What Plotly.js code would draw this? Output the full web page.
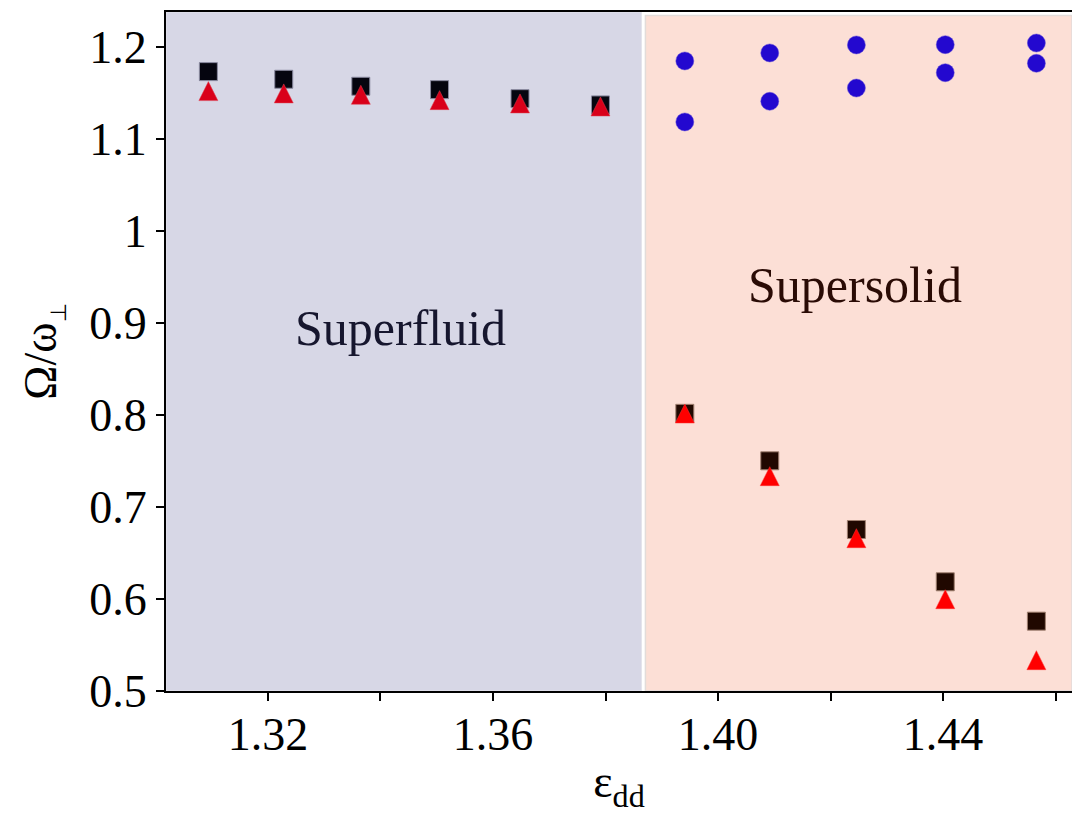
<!DOCTYPE html>
<html>
<head>
<meta charset="utf-8">
<script src="https://cdn.plot.ly/plotly-3.0.1.min.js"></script>
<style>
  html, body { margin: 0; padding: 0; background: #ffffff; }
  #chart { width: 1072px; height: 814px; }
</style>
</head>
<body>
<div id="chart"></div>
<script>
// Superfluid phase: one mode pair per interaction strength
const eddSuperfluid = [1.3094, 1.3228, 1.3365, 1.3505, 1.3648, 1.3791];
const squareSuperfluid = [1.1732, 1.1649, 1.1573, 1.1536, 1.1438, 1.1370];
const triangleSuperfluid = [1.1520, 1.1495, 1.1480, 1.1422, 1.1386, 1.1353];

// Supersolid phase
const eddSupersolid = [1.3941, 1.4092, 1.4246, 1.4404, 1.4566];
const circleUpper = [1.1848, 1.1935, 1.2022, 1.2025, 1.2043];
const circleLower = [1.1185, 1.1410, 1.1554, 1.1720, 1.1823];
const squareSupersolid = [0.8018, 0.7502, 0.6755, 0.6187, 0.5759];
const triangleSupersolid = [0.8016, 0.7335, 0.6661, 0.5998, 0.5335];

// Phase boundary and axis ticks
const phaseBoundary = [1.3864, 1.3871];
const xTickVals = [1.32, 1.34, 1.36, 1.38, 1.40, 1.42, 1.44, 1.46];
const xTickText = ['1.32', '', '1.36', '', '1.40', '', '1.44', ''];
const yTickVals = [0.5, 0.6, 0.7, 0.8, 0.9, 1.0, 1.1, 1.2];
const yTickText = ['0.5', '0.6', '0.7', '0.8', '0.9', '1', '1.1', '1.2'];
const phaseNames = ['Superfluid', 'Supersolid'];
const phaseLabelX = [1.3435, 1.4244];
const phaseLabelY = [0.8946, 0.9410];

const serif = '"Liberation Serif", "Times New Roman", Times, serif';

// Upright triangle centred on its point: a downward arrow turned
// half a turn and pushed back by its own half-height.
const TRI_SIZE = 19;
function triangleMarker(color, edge) {
  return { symbol: 'arrow-down', angle: 180, standoff: TRI_SIZE / 2,
           size: TRI_SIZE, color: color, line: { width: 0.5, color: edge } };
}

const traces = [
  { x: eddSuperfluid, y: squareSuperfluid, type: 'scatter', mode: 'markers',
    marker: { symbol: 'square', size: 18, color: '#05050f',
              line: { width: 1, color: '#8a8aa0' } } },
  { x: eddSuperfluid, y: triangleSuperfluid, type: 'scatter', mode: 'markers',
    marker: triangleMarker('#d9001a', '#e04050') },
  { x: eddSupersolid, y: circleUpper, type: 'scatter', mode: 'markers',
    marker: { symbol: 'circle', size: 18, color: '#2308cf',
              line: { width: 0.5, color: '#5a48d8' } } },
  { x: eddSupersolid, y: circleLower, type: 'scatter', mode: 'markers',
    marker: { symbol: 'circle', size: 18, color: '#2308cf',
              line: { width: 0.5, color: '#5a48d8' } } },
  { x: eddSupersolid, y: squareSupersolid, type: 'scatter', mode: 'markers',
    marker: { symbol: 'square', size: 18, color: '#200800',
              line: { width: 1, color: '#a08070' } } },
  { x: eddSupersolid, y: triangleSupersolid, type: 'scatter', mode: 'markers',
    marker: triangleMarker('#ff0000', '#ff3030') }
];

const layout = {
  width: 1072,
  height: 814,
  margin: { l: 166, r: 0, t: 12, b: 123 },
  paper_bgcolor: '#ffffff',
  plot_bgcolor: '#ffffff',
  showlegend: false,
  font: { family: serif, color: '#000000' },
  xaxis: {
    range: [1.30187, 1.46293],
    tickvals: xTickVals,
    ticktext: xTickText,
    ticks: 'outside', ticklen: 8, tickwidth: 2, tickcolor: '#000000',
    ticklabelstandoff: -6,
    showline: true, linecolor: '#000000', linewidth: 2, mirror: true,
    showgrid: false, zeroline: false,
    tickfont: { family: serif, size: 46, color: '#000000' },
    title: { text: 'ε<sub>dd</sub>', font: { family: serif, size: 46, color: '#000000' }, standoff: 30 }
  },
  yaxis: {
    range: [0.5, 1.238],
    tickvals: yTickVals,
    ticktext: yTickText,
    ticks: 'outside', ticklen: 8, tickwidth: 2, tickcolor: '#000000',
    showline: true, linecolor: '#000000', linewidth: 2,
    showgrid: false, zeroline: false,
    tickfont: { family: serif, size: 46, color: '#000000' },
    title: { text: 'Ω/ω<sub><span style="font-size:22px">⊥</span></sub>',
             font: { family: serif, size: 46, color: '#000000' }, standoff: 18 }
  },
  shapes: [
    { type: 'rect', layer: 'below', xref: 'x', yref: 'paper', y0: 0, y1: 1,
      x0: 1.30187, x1: phaseBoundary[0], fillcolor: '#d7d7e6',
      line: { width: 1, color: '#e4e4ec' } },
    { type: 'rect', layer: 'below', xref: 'x', yref: 'paper', y0: 0, y1: 0.995,
      x0: phaseBoundary[1], x1: 1.46293, fillcolor: '#fcdfd6',
      line: { width: 1.5, color: '#e2dcda' } }
  ],
  annotations: [
    { x: phaseLabelX[0], y: phaseLabelY[0], xref: 'x', yref: 'y', text: phaseNames[0],
      showarrow: false, font: { family: serif, size: 50, color: '#16162e' } },
    { x: phaseLabelX[1], y: phaseLabelY[1], xref: 'x', yref: 'y', text: phaseNames[1],
      showarrow: false, font: { family: serif, size: 50, color: '#2a0b05' } }
  ]
};

Plotly.newPlot('chart', traces, layout, { displayModeBar: false, staticPlot: true });
</script>
</body>
</html>
